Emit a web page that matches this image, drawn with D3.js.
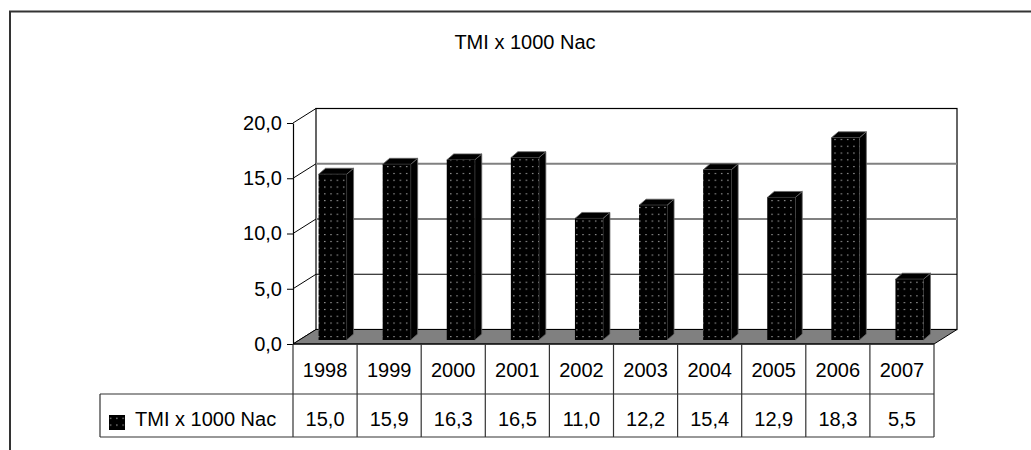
<!DOCTYPE html>
<html>
<head>
<meta charset="utf-8">
<script src="https://cdn.jsdelivr.net/npm/d3@7/dist/d3.min.js"></script>
<style>
  html, body { margin: 0; padding: 0; background: #fff; }
  svg { display: block; }
  text { font-family: "Liberation Sans", Arial, sans-serif; fill: #000; }
</style>
</head>
<body>
<svg id="chart" width="1031" height="450"></svg>
<script>
// Infant mortality rate per 1000 births, by year
const years = ["1998", "1999", "2000", "2001", "2002", "2003", "2004", "2005", "2006", "2007"];
const tmiValues = [15.0, 15.9, 16.3, 16.5, 11.0, 12.2, 15.4, 12.9, 18.3, 5.5];
const yTicks = [0, 5, 10, 15, 20];
const seriesName = "TMI x 1000 Nac";
const chartTitle = "TMI x 1000 Nac";

(function draw() {
  const svg = d3.select("#chart");
  const fmt = v => d3.format(".1f")(v).replace(".", ",");

  // plot geometry (front plane of the 3-D box)
  const plotLeft = 293, plotRight = 934, plotBottom = 344, plotTop = 123;
  const depth = { dx: 23, dy: -14.5 };      // back wall offset
  const barPlane = { dx: 7.5, dy: -4 };     // bar front face offset
  const barDepth = { dx: 7, dy: -6 };       // bar thickness
  const barWidth = 28;

  const x = d3.scaleBand().domain(years).range([plotLeft, plotRight]).paddingInner(0).paddingOuter(0);
  const y = d3.scaleLinear().domain([0, 20]).range([plotBottom, plotTop]);

  // dotted fill for bar fronts
  const defs = svg.append("defs");
  const pat = defs.append("pattern")
    .attr("id", "dots").attr("patternUnits", "userSpaceOnUse")
    .attr("width", 6.3).attr("height", 6.8);
  pat.append("rect").attr("width", 6.3).attr("height", 6.8).attr("fill", "#000");
  pat.append("rect").attr("x", 3).attr("y", 3).attr("width", 1).attr("height", 1).attr("fill", "#fff");

  // outer frame
  svg.append("path")
    .attr("d", "M10,450 V11.5 H1031")
    .attr("fill", "none").attr("stroke", "#333").attr("stroke-width", 2);

  // title
  svg.append("text")
    .attr("x", 525).attr("y", 49)
    .attr("text-anchor", "middle").attr("font-size", 20)
    .text(chartTitle);

  const g = svg.append("g");

  // back wall
  g.append("rect")
    .attr("x", plotLeft + depth.dx).attr("y", plotTop + depth.dy)
    .attr("width", plotRight - plotLeft).attr("height", plotBottom - plotTop)
    .attr("fill", "#fff").attr("stroke", "#000").attr("stroke-width", 1.2);

  // back-wall gridlines
  yTicks.filter(t => t > 0 && t < 20).forEach(t => {
    g.append("line")
      .attr("x1", plotLeft + depth.dx).attr("x2", plotRight + depth.dx)
      .attr("y1", y(t) + depth.dy).attr("y2", y(t) + depth.dy)
      .attr("stroke", t === 5 ? "#000" : "#808080").attr("stroke-width", t === 5 ? 1.2 : 2);
  });

  // left wall diagonals
  yTicks.forEach(t => {
    g.append("line")
      .attr("x1", plotLeft).attr("y1", y(t))
      .attr("x2", plotLeft + depth.dx).attr("y2", y(t) + depth.dy)
      .attr("stroke", "#000").attr("stroke-width", 1);
  });

  // floor
  g.append("path")
    .attr("d", `M${plotLeft},${plotBottom} L${plotRight},${plotBottom} L${plotRight + depth.dx},${plotBottom + depth.dy} L${plotLeft + depth.dx},${plotBottom + depth.dy} Z`)
    .attr("fill", "#808080").attr("stroke", "#000").attr("stroke-width", 1);

  // bars
  const bars = g.selectAll("g.bar").data(years.map((yr, i) => ({ yr, v: tmiValues[i] })))
    .join("g").attr("class", "bar");

  bars.each(function(d) {
    const b = d3.select(this);
    const x0 = x(d.yr) + (x.bandwidth() - barWidth) / 2 + barPlane.dx;
    const x1 = x0 + barWidth;
    const yb = y(0) + barPlane.dy;
    const yt = y(d.v) + barPlane.dy;
    // side face
    b.append("path")
      .attr("d", `M${x1},${yb} L${x1 + barDepth.dx},${yb + barDepth.dy} L${x1 + barDepth.dx},${yt + barDepth.dy} L${x1},${yt} Z`)
      .attr("fill", "#000").attr("stroke", "#666").attr("stroke-width", 0.8);
    // top face
    b.append("path")
      .attr("d", `M${x0},${yt} L${x0 + barDepth.dx},${yt + barDepth.dy} L${x1 + barDepth.dx},${yt + barDepth.dy} L${x1},${yt} Z`)
      .attr("fill", "#000").attr("stroke", "#666").attr("stroke-width", 0.8);
    // front face
    b.append("rect")
      .attr("x", x0).attr("y", yt).attr("width", barWidth).attr("height", yb - yt)
      .attr("fill", "url(#dots)");
  });

  // value axis
  const axis = d3.axisLeft(y).tickValues(yTicks).tickFormat(fmt).tickSize(6).tickSizeOuter(0).tickPadding(5);
  const ag = svg.append("g").attr("transform", `translate(${plotLeft},0)`).call(axis);
  ag.select(".domain").attr("stroke", "#000").attr("stroke-width", 1.2);
  ag.selectAll(".tick line").attr("stroke", "#000");
  ag.selectAll(".tick text").attr("font-size", 20).attr("font-family", '"Liberation Sans", Arial, sans-serif').attr("fill", "#000");

  // data table
  const tg = svg.append("g");
  const row1Top = plotBottom, row1Bot = 394, row2Bot = 437, legendLeft = 100;
  const lineCol = "#333";

  tg.append("line").attr("x1", legendLeft).attr("x2", plotRight).attr("y1", row1Bot).attr("y2", row1Bot)
    .attr("stroke", lineCol).attr("stroke-width", 1.2);
  tg.append("line").attr("x1", legendLeft).attr("x2", plotRight).attr("y1", row2Bot).attr("y2", row2Bot)
    .attr("stroke", lineCol).attr("stroke-width", 1.2);
  tg.append("line").attr("x1", legendLeft).attr("x2", legendLeft).attr("y1", row1Bot).attr("y2", row2Bot)
    .attr("stroke", lineCol).attr("stroke-width", 1.2);
  tg.append("line").attr("x1", plotLeft).attr("x2", plotRight).attr("y1", row1Top).attr("y2", row1Top)
    .attr("stroke", "#000").attr("stroke-width", 1.2);

  const colEdges = years.map(yr => x(yr)).concat([plotRight]);
  tg.selectAll("line.col").data(colEdges).join("line").attr("class", "col")
    .attr("x1", d => d).attr("x2", d => d).attr("y1", row1Top).attr("y2", row2Bot)
    .attr("stroke", lineCol).attr("stroke-width", 1.2);

  tg.selectAll("text.year").data(years).join("text").attr("class", "year")
    .attr("x", d => x(d) + x.bandwidth() / 2).attr("y", 377)
    .attr("text-anchor", "middle").attr("font-size", 20).text(d => d);

  tg.selectAll("text.val").data(tmiValues).join("text").attr("class", "val")
    .attr("x", (d, i) => x(years[i]) + x.bandwidth() / 2).attr("y", 426)
    .attr("text-anchor", "middle").attr("font-size", 20).text(d => fmt(d));

  // legend key and series name
  tg.append("rect").attr("x", 109).attr("y", 415).attr("width", 16).attr("height", 15)
    .attr("fill", "url(#dots)");
  tg.append("text").attr("x", 135).attr("y", 426).attr("font-size", 20).text(seriesName);
})();
</script>
</body>
</html>
